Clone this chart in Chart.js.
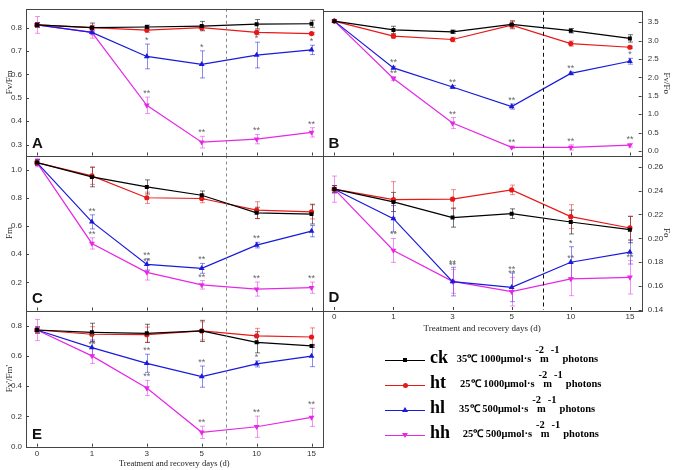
<!DOCTYPE html>
<html lang="en">
<head>
<meta charset="UTF-8">
<title>Fluorescence parameters</title>
<script src="https://cdn.jsdelivr.net/npm/chart.js@4.4.1/dist/chart.umd.min.js"></script>
<style>
  body { margin: 0; background: #fff; }
  #wrap { position: relative; width: 673px; height: 470px; overflow: hidden; }
  #wrap canvas { position: absolute; left: 0; top: 0; }
  .lg-line { position: absolute; width: 40px; height: 0; }
  .lg-code { position: absolute; font: bold 18px/20px 'Liberation Serif', serif; white-space: nowrap; }
  .lg-desc { position: absolute; font: bold 10.5px/12px 'Liberation Serif', serif; white-space: nowrap; }
  .lg-desc .sp { position: relative; top: -9px; }
</style>
</head>
<body>
<div id="wrap">
  <canvas id="chartA" width="673" height="470"></canvas>
  <canvas id="chartB" width="673" height="470"></canvas>
  <canvas id="chartC" width="673" height="470"></canvas>
  <canvas id="chartD" width="673" height="470"></canvas>
  <canvas id="chartE" width="673" height="470"></canvas>
  <div id="legend"></div>
</div>

<script>
// 处理天数 (x 轴)
const days = ['0', '1', '3', '5', '10', '15'];

// A  Fv/Fm
const fvfmCk = [0.812, 0.800, 0.803, 0.807, 0.815, 0.817];
const fvfmHt = [0.812, 0.800, 0.790, 0.800, 0.780, 0.775];
const fvfmHl = [0.812, 0.780, 0.677, 0.643, 0.683, 0.705];
const fvfmHh = [0.812, 0.780, 0.468, 0.310, 0.323, 0.352];
const fvfmCkErr = [0.010, 0.020, 0.008, 0.020, 0.020, 0.015];
const fvfmHtErr = [0.010, 0.010, 0.010, 0.010, 0.010, 0.005];
const fvfmHlErr = [0.010, 0.010, 0.053, 0.058, 0.055, 0.020];
const fvfmHhErr = [0.036, 0.025, 0.035, 0.025, 0.020, 0.020];
const fvfmHlStar = ['', '', '*', '*', '*', '*'];
const fvfmHhStar = ['', '', '**', '**', '**', '**'];
const fvfmTicks = [0.3, 0.4, 0.5, 0.6, 0.7, 0.8];

// B  Fv/Fo
const fvfoCk = [3.53, 3.29, 3.24, 3.44, 3.27, 3.06];
const fvfoHt = [3.53, 3.12, 3.03, 3.42, 2.92, 2.82];
const fvfoHl = [3.53, 2.26, 1.74, 1.21, 2.11, 2.44];
const fvfoHh = [3.53, 1.97, 0.76, 0.10, 0.10, 0.16];
const fvfoCkErr = [0.03, 0.10, 0.04, 0.10, 0.06, 0.10];
const fvfoHtErr = [0.03, 0.05, 0.06, 0.10, 0.07, 0.03];
const fvfoHlErr = [0.03, 0.04, 0.04, 0.07, 0.04, 0.08];
const fvfoHhErr = [0.03, 0.05, 0.15, 0.03, 0.07, 0.05];
const fvfoHlStar = ['', '**', '**', '**', '**', '*'];
const fvfoHhStar = ['', '**', '**', '**', '**', '**'];
const fvfoTicks = [0, 0.5, 1.0, 1.5, 2.0, 2.5, 3.0, 3.5];

// C  Fm
const fmCk = [1.050, 0.948, 0.877, 0.818, 0.693, 0.684];
const fmHt = [1.050, 0.955, 0.800, 0.795, 0.712, 0.700];
const fmHl = [1.050, 0.629, 0.327, 0.299, 0.464, 0.563];
const fmHh = [1.050, 0.476, 0.271, 0.182, 0.152, 0.162];
const fmCkErr = [0.02, 0.07, 0.05, 0.03, 0.04, 0.07];
const fmHtErr = [0.02, 0.06, 0.04, 0.03, 0.06, 0.05];
const fmHlErr = [0.02, 0.05, 0.04, 0.035, 0.02, 0.04];
const fmHhErr = [0.03, 0.04, 0.055, 0.03, 0.05, 0.04];
const fmHlStar = ['', '**', '**', '**', '**', ''];
const fmHhStar = ['', '**', '**', '**', '**', '**'];
const fmTicks = [0.2, 0.4, 0.6, 0.8, 1.0];

// D  Fo
const foCk = [0.2412, 0.2305, 0.2174, 0.2207, 0.2137, 0.2073];
const foHt = [0.2412, 0.2325, 0.2328, 0.2406, 0.2182, 0.2087];
const foHl = [0.2412, 0.2165, 0.1638, 0.1590, 0.1800, 0.1885];
const foHh = [0.2412, 0.1899, 0.1640, 0.1554, 0.1660, 0.1674];
const foCkErr = [0.003, 0.008, 0.008, 0.004, 0.010, 0.011];
const foHtErr = [0.003, 0.015, 0.008, 0.004, 0.010, 0.010];
const foHlErr = [0.003, 0.011, 0.012, 0.012, 0.013, 0.010];
const foHhErr = [0.011, 0.010, 0.010, 0.012, 0.014, 0.014];
const foHlStar = ['', '', '**', '**', '*', ''];
const foHhStar = ['', '**', '**', '**', '**', '**'];
const foTicks = [0.14, 0.16, 0.18, 0.20, 0.22, 0.24, 0.26];

// E  Fv'/Fm'
const qCk = [0.771, 0.756, 0.749, 0.765, 0.690, 0.666];
const qHt = [0.771, 0.743, 0.740, 0.765, 0.732, 0.725];
const qHl = [0.771, 0.655, 0.551, 0.463, 0.547, 0.599];
const qHh = [0.771, 0.600, 0.388, 0.095, 0.132, 0.194];
const qCkErr = [0.02, 0.06, 0.06, 0.07, 0.07, 0.01];
const qHtErr = [0.02, 0.05, 0.05, 0.06, 0.05, 0.06];
const qHlErr = [0.02, 0.05, 0.06, 0.07, 0.02, 0.07];
const qHhErr = [0.07, 0.05, 0.05, 0.04, 0.07, 0.06];
const qHlStar = ['', '*', '**', '**', '*', ''];
const qHhStar = ['', '**', '**', '**', '**', '**'];
const qTicks = [0, 0.2, 0.4, 0.6, 0.8];

// 图例
const codes = ['ck', 'ht', 'hl', 'hh'];
const conditions = ['35℃ 1000μmol·s', '25℃ 1000μmol·s', '35℃ 500μmol·s', '25℃ 500μmol·s'];

const seriesStyle = [
  { color: '#000000', err: 'rgba(0,0,0,0.55)',     point: 'rect',     radius: 2.8, rot: 0 },
  { color: '#e81818', err: 'rgba(232,24,24,0.5)',  point: 'circle',   radius: 2.6, rot: 0 },
  { color: '#1a1adc', err: 'rgba(26,26,220,0.5)',  point: 'triangle', radius: 3.4, rot: 0 },
  { color: '#e628e6', err: 'rgba(230,40,230,0.5)', point: 'triangle', radius: 3.4, rot: 180 }
];

// 误差线, 星号, 边框, 内刻度, 分隔虚线, 面板字母
const panelDeco = {
  id: 'panelDeco',
  beforeDatasetsDraw(chart) {
    const { ctx, scales: { x, y } } = chart;
    ctx.save();
    ctx.lineWidth = 1;
    chart.data.datasets.forEach(ds => {
      ctx.strokeStyle = ds.errColor;
      ds.data.forEach((p, i) => {
        const e = ds.errors[i];
        const px = Math.round(x.getPixelForValue(p.x)) + 0.5;
        const t = y.getPixelForValue(p.y + e), b = y.getPixelForValue(p.y - e);
        ctx.beginPath();
        ctx.moveTo(px, t); ctx.lineTo(px, b);
        ctx.moveTo(px - 2.5, t); ctx.lineTo(px + 2.5, t);
        ctx.moveTo(px - 2.5, b); ctx.lineTo(px + 2.5, b);
        ctx.stroke();
      });
    });
    ctx.restore();
  },
  afterDraw(chart, args, opts) {
    const { ctx, chartArea: a, scales: { x, y } } = chart;
    ctx.save();
    // 处理/恢复分隔线
    const dx = Math.round(x.getPixelForValue(opts.split)) + 0.5;
    ctx.setLineDash(opts.dash);
    ctx.strokeStyle = opts.dashColor;
    ctx.lineWidth = 1;
    ctx.beginPath(); ctx.moveTo(dx, a.top); ctx.lineTo(dx, a.bottom); ctx.stroke();
    ctx.setLineDash([]);
    // 边框
    ctx.strokeStyle = '#444';
    ctx.strokeRect(Math.round(a.left) + 0.5, Math.round(a.top) + 0.5,
                   Math.round(a.width), Math.round(a.height));
    // 内刻度
    ctx.beginPath();
    x.ticks.forEach(t => {
      const px = Math.round(x.getPixelForValue(t.value)) + 0.5;
      ctx.moveTo(px, a.bottom); ctx.lineTo(px, a.bottom - 3);
    });
    y.ticks.forEach(t => {
      const py = Math.round(y.getPixelForValue(t.value)) + 0.5;
      if (opts.right) { ctx.moveTo(a.right, py); ctx.lineTo(a.right - 3, py); }
      else { ctx.moveTo(a.left, py); ctx.lineTo(a.left + 3, py); }
    });
    ctx.stroke();
    // 显著性星号
    ctx.font = '9px "Liberation Sans", Arial, sans-serif';
    ctx.fillStyle = '#666';
    ctx.textAlign = 'center';
    chart.data.datasets.forEach(ds => {
      if (!ds.stars) return;
      ds.stars.forEach((s, i) => {
        if (!s) return;
        const p = ds.data[i];
        ctx.fillText(s, x.getPixelForValue(p.x), y.getPixelForValue(p.y + ds.errors[i]) - 1);
      });
    });
    // 面板字母
    ctx.font = 'bold 15px "Liberation Sans", Arial, sans-serif';
    ctx.fillStyle = '#111';
    ctx.textAlign = 'left';
    ctx.fillText(opts.letter, a.left + 6, a.bottom - 8);
    ctx.restore();
  }
};

function buildSets(vals, errs, stars) {
  return vals.map((arr, k) => ({
    data: arr.map((v, i) => ({ x: i, y: v })),
    errors: errs[k],
    stars: stars[k],
    errColor: seriesStyle[k].err,
    borderColor: seriesStyle[k].color,
    backgroundColor: seriesStyle[k].color,
    borderWidth: 1.2,
    pointStyle: seriesStyle[k].point,
    pointRadius: seriesStyle[k].radius,
    pointRotation: seriesStyle[k].rot,
    pointBorderWidth: 0,
    tension: 0
  }));
}

const tickFont = { family: '"Liberation Sans", Arial, sans-serif', size: 8 };
const titleFont = { family: '"Liberation Serif", "Times New Roman", serif', size: 9 };

function makePanel(id, p) {
  return new Chart(document.getElementById(id), {
    type: 'line',
    data: { datasets: buildSets(p.vals, p.errs, p.stars) },
    options: {
      responsive: false,
      animation: false,
      layout: { padding: p.pad },
      plugins: {
        legend: { display: false },
        tooltip: { enabled: false },
        panelDeco: { letter: p.letter, split: p.split, right: p.right,
                     dash: p.right ? [4, 3] : [3, 3], dashColor: p.right ? '#111' : '#888' }
      },
      scales: {
        x: {
          type: 'linear', min: -0.2, max: 5.2,
          afterBuildTicks: s => { s.ticks = days.map((d, i) => ({ value: i })); },
          afterFit: s => { s.height = p.xh; },
          grid: { display: false, drawTicks: false },
          border: { display: false },
          ticks: { display: p.xLabels, callback: v => days[v], font: tickFont, color: '#333', padding: 2, maxRotation: 0 },
          title: { display: p.xLabels, text: 'Treatment and recovery days (d)',
                   font: { family: titleFont.family, size: p.xTitleSize }, color: '#222',
                   padding: { top: 0, bottom: p.xTitlePad } }
        },
        y: {
          position: p.right ? 'right' : 'left',
          min: p.min, max: p.max,
          afterBuildTicks: s => { s.ticks = p.ticks.map(v => ({ value: v })); },
          afterFit: s => { s.width = p.yw; },
          grid: { display: false, drawTicks: false },
          border: { display: false },
          ticks: { font: tickFont, color: '#333', padding: p.right ? 6 : 4,
                   callback: v => v.toFixed(p.dec) },
          title: { display: true, text: p.title, font: titleFont, color: '#222',
                   padding: { top: p.right ? 1 : 4, bottom: 0 } }
        }
      }
    },
    plugins: [panelDeco]
  });
}

makePanel('chartA', {
  vals: [fvfmCk, fvfmHt, fvfmHl, fvfmHh], errs: [fvfmCkErr, fvfmHtErr, fvfmHlErr, fvfmHhErr],
  stars: [null, null, fvfmHlStar, fvfmHhStar], ticks: fvfmTicks, min: 0.253, max: 0.881, dec: 1,
  title: 'Fv/Fm', letter: 'A', split: 3.45, right: false, yw: 26, xh: 0, xLabels: false,
  pad: { left: 0, top: 1, right: 350.5, bottom: 314.5 }
});
makePanel('chartB', {
  vals: [fvfoCk, fvfoHt, fvfoHl, fvfoHh], errs: [fvfoCkErr, fvfoHtErr, fvfoHlErr, fvfoHhErr],
  stars: [null, null, fvfoHlStar, fvfoHhStar], ticks: fvfoTicks, min: -0.12, max: 3.81, dec: 1,
  title: 'Fv/Fo', letter: 'B', split: 3.53, right: true, yw: 31.3, xh: 0, xLabels: false,
  pad: { left: 322.5, top: 1, right: 0, bottom: 314.5 }
});
makePanel('chartC', {
  vals: [fmCk, fmHt, fmHl, fmHh], errs: [fmCkErr, fmHtErr, fmHlErr, fmHhErr],
  stars: [null, null, fmHlStar, fmHhStar], ticks: fmTicks, min: 0, max: 1.1, dec: 1,
  title: 'Fm', letter: 'C', split: 3.45, right: false, yw: 26, xh: 0, xLabels: false,
  pad: { left: 0, top: 155.5, right: 350.5, bottom: 159.5 }
});
makePanel('chartD', {
  vals: [foCk, foHt, foHl, foHh], errs: [foCkErr, foHtErr, foHlErr, foHhErr],
  stars: [null, null, foHlStar, foHhStar], ticks: foTicks, min: 0.14, max: 0.2694, dec: 2,
  title: 'Fo', letter: 'D', split: 3.53, right: true, yw: 31.3, xh: 25, xLabels: true,
  xTitleSize: 9, xTitlePad: 0.6,
  pad: { left: 322.5, top: 155.5, right: 0, bottom: 135 }
});
makePanel('chartE', {
  vals: [qCk, qHt, qHl, qHh], errs: [qCkErr, qHtErr, qHlErr, qHhErr],
  stars: [null, null, qHlStar, qHhStar], ticks: qTicks, min: 0, max: 0.9, dec: 1,
  title: "Fv'/Fm'", letter: 'E', split: 3.45, right: false, yw: 26, xh: 23.3, xLabels: true,
  xTitleSize: 8.5, xTitlePad: 1.6,
  pad: { left: 0, top: 310.5, right: 350.5, bottom: 0 }
});

// 图例 (HTML)
const legendBase = [363, 388, 413, 438];
const legendDescX = [456.7, 460, 459, 462.7];
const legend = document.getElementById('legend');
codes.forEach((c, k) => {
  const st = seriesStyle[k];
  const ly = legendBase[k] - 3.5;
  const line = document.createElement('div');
  line.className = 'lg-line';
  line.style.cssText = `left:385px;top:${ly}px;border-top:1.3px solid ${st.color};`;
  legend.appendChild(line);
  const mk = document.createElement('div');
  mk.style.position = 'absolute';
  if (st.point === 'rect') {
    mk.style.cssText += `left:403px;top:${ly - 1.5}px;width:4px;height:4px;background:${st.color};`;
  } else if (st.point === 'circle') {
    mk.style.cssText += `left:402.5px;top:${ly - 2}px;width:5px;height:5px;border-radius:50%;background:${st.color};`;
  } else if (st.rot === 0) {
    mk.style.cssText += `left:402px;top:${ly - 2.5}px;width:0;height:0;border-left:3px solid transparent;border-right:3px solid transparent;border-bottom:5px solid ${st.color};`;
  } else {
    mk.style.cssText += `left:402px;top:${ly - 2}px;width:0;height:0;border-left:3px solid transparent;border-right:3px solid transparent;border-top:5px solid ${st.color};`;
  }
  legend.appendChild(mk);
  const code = document.createElement('div');
  code.className = 'lg-code';
  code.style.left = '430px';
  code.style.top = (legendBase[k] - 16) + 'px';
  code.textContent = c;
  legend.appendChild(code);
  const desc = document.createElement('div');
  desc.className = 'lg-desc';
  desc.style.left = legendDescX[k] + 'px';
  desc.style.top = (legendBase[k] - 9.6) + 'px';
  desc.innerHTML = conditions[k] +
    '<span class="sp" style="margin-left:4px;margin-right:-4px">-2</span>m' +
    '<span class="sp" style="margin-left:2px;margin-right:3px">-1</span>photons';
  legend.appendChild(desc);
});
</script>
</body>
</html>
